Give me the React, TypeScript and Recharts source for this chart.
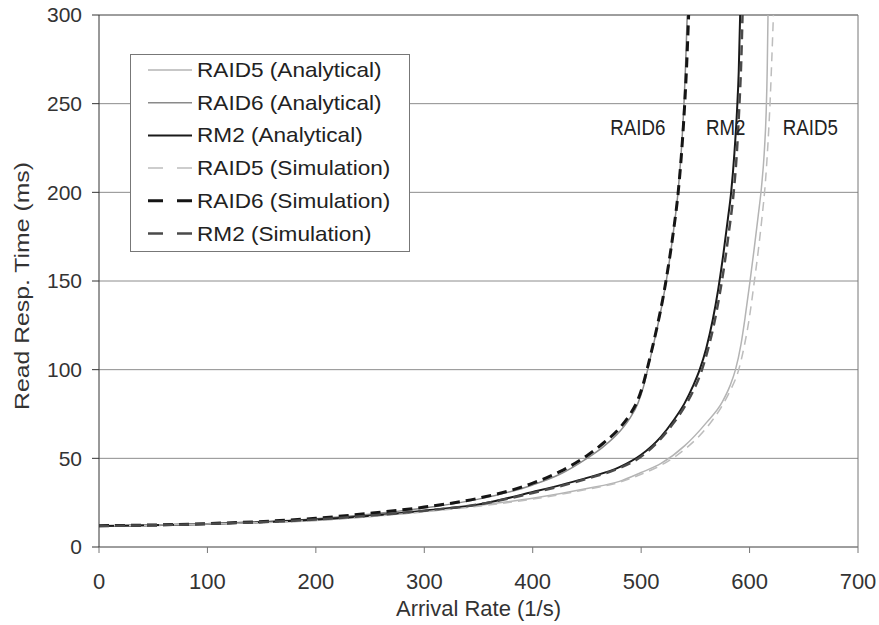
import React from 'react';
import { LineChart, Line, XAxis, YAxis, CartesianGrid, ReferenceLine, ReferenceDot } from 'recharts';

const FONT = '"Liberation Sans", Arial, sans-serif';

// x ticks / y ticks
const rateTicks = [0, 100, 200, 300, 400, 500, 600, 700];
const timeTicks = [0, 50, 100, 150, 200, 250, 300];

// RAID5 analytical
const raid5AnaRate = [0, 100, 200, 300, 350, 400, 450, 480, 500, 518, 540, 560, 575, 582, 587, 592, 596, 600, 604, 608, 611, 613.5, 615.3, 616.3, 617];
const raid5AnaTime = [11.8, 13, 15, 20, 23.5, 27.5, 33, 37, 42, 47, 57, 70, 82, 91, 100, 114, 130, 148, 167, 187, 203, 222, 245, 270, 300];

// RAID6 analytical
const raid6AnaRate = [0, 100, 200, 250, 300, 350, 400, 425, 450, 465, 480, 490, 497, 502, 506, 510, 515, 520, 525, 530, 534, 537, 539.5, 541, 542.5];
const raid6AnaTime = [11.8, 13, 16, 18.5, 22, 27, 35, 41, 50, 56.5, 65, 73, 81, 90, 100, 110.5, 124, 139, 157, 179, 200, 223, 250, 272, 300];

// RM2 analytical
const rm2AnaRate = [0, 100, 200, 300, 350, 400, 450, 480, 500, 518, 530, 540, 548, 554, 560, 566, 571, 576, 580, 583, 586, 588.5, 590, 591.3];
const rm2AnaTime = [11.8, 13, 15.5, 20.5, 24, 31, 39, 45, 52, 62, 71.5, 81, 91, 100, 112, 128, 145, 166, 185, 200, 222, 247, 268, 300];

// RAID5 simulation
const raid5SimRate = [0, 100, 200, 300, 350, 400, 450, 480, 500, 518, 540, 560, 575, 582, 590, 595, 600, 604, 608, 611.5, 614.5, 617, 619, 620.5, 622];
const raid5SimTime = [11.8, 13, 15, 19.8, 23, 27, 32.5, 36.5, 41, 46, 55, 67, 80, 88, 100, 113, 130, 148, 167, 186, 205, 228, 252, 275, 300];

// RAID6 simulation
const raid6SimRate = [0, 100, 200, 250, 300, 350, 400, 425, 450, 465, 480, 490, 497, 502, 506, 510, 515, 520, 525, 530, 534, 537, 540, 542, 543.8];
const raid6SimTime = [12, 13.2, 16.2, 19, 22.5, 27.5, 36, 42.5, 51.5, 58.5, 67, 75, 83, 92, 101.5, 111.5, 125, 140, 158, 179, 199, 220, 248, 272, 300];

// RM2 simulation
const rm2SimRate = [0, 100, 200, 300, 350, 400, 450, 480, 500, 518, 530, 540, 548, 555, 561, 567, 572, 577, 581, 585, 588, 590.5, 592.2, 593.5];
const rm2SimTime = [11.8, 13, 15.5, 20.5, 24, 30.5, 38.5, 44.5, 51, 61, 70, 79, 88, 98, 110, 125, 141, 160, 178, 198, 220, 248, 272, 300];

const toPoints = (rates: number[], times: number[]) => rates.map((x, i) => ({ x, y: times[i] }));

const series = [
  { name: 'RAID5 (Analytical)', data: toPoints(raid5AnaRate, raid5AnaTime), color: '#b4b4b4', width: 1.5, dash: undefined },
  { name: 'RAID6 (Analytical)', data: toPoints(raid6AnaRate, raid6AnaTime), color: '#8a8a8a', width: 1.5, dash: undefined },
  { name: 'RM2 (Analytical)', data: toPoints(rm2AnaRate, rm2AnaTime), color: '#1a1a1a', width: 2, dash: undefined },
  { name: 'RAID5 (Simulation)', data: toPoints(raid5SimRate, raid5SimTime), color: '#bdbdbd', width: 1.5, dash: '9 6' },
  { name: 'RAID6 (Simulation)', data: toPoints(raid6SimRate, raid6SimTime), color: '#151515', width: 3, dash: '10 6' },
  { name: 'RM2 (Simulation)', data: toPoints(rm2SimRate, rm2SimTime), color: '#4a4a4a', width: 2.5, dash: '10 6' },
];

const curveLabels = [
  { text: 'RAID6', x: 497, y: 237 },
  { text: 'RM2', x: 578, y: 237 },
  { text: 'RAID5', x: 656, y: 237 },
];

const LegendBox = () => (
  <svg width={280} height={198} style={{ display: 'block' }}>
    <rect x={0.5} y={0.5} width={279} height={197} fill="#fff" stroke="#777" />
    {series.map((s, i) => {
      const cy = 16 + i * 32.7;
      return (
        <g key={s.name}>
          <line x1={18} x2={62} y1={cy} y2={cy} stroke={s.color} strokeWidth={s.width} strokeDasharray={s.dash ? '15 14' : undefined} />
          <text
            transform={`translate(67, ${cy + 7}) scale(1.13, 1)`}
            fontFamily={FONT}
            fontSize={20}
            fill="#222"
          >
            {s.name}
          </text>
        </g>
      );
    })}
  </svg>
);

const CurveLabel = (props: any) => {
  const { viewBox, value } = props;
  const cx = viewBox.x + (viewBox.width || 0) / 2;
  const cy = viewBox.y + (viewBox.height || 0) / 2;
  return (
    <text
      transform={`translate(${cx}, ${cy + 8}) scale(0.85, 1)`}
      textAnchor="middle"
      fontFamily={FONT}
      fontSize={22}
      fill="#222"
    >
      {value}
    </text>
  );
};

const YTitle = () => (
  <text
    transform="translate(29, 286) rotate(-90)"
    textAnchor="middle"
    fontFamily={FONT}
    fontSize={21}
    fill="#333"
    textLength={248}
    lengthAdjust="spacingAndGlyphs"
  >
    Read Resp. Time (ms)
  </text>
);

export default function App() {
  return (
    <div style={{ position: 'absolute', left: 0, top: 0, width: 879, height: 625, background: '#fff' }}>
      <LineChart width={879} height={625} margin={{ top: 15, right: 21, left: 0, bottom: 0 }}>
        <CartesianGrid vertical={false} stroke="#8c8c8c" strokeWidth={1} />
        <XAxis
          dataKey="x"
          type="number"
          domain={[0, 700]}
          ticks={rateTicks}
          allowDataOverflow
          height={78}
          tickSize={6}
          tickMargin={20}
          stroke="#777"
          tick={{ fontFamily: FONT, fontSize: 22, fill: '#333' }}
          label={{ value: 'Arrival Rate (1/s)', position: 'insideBottom', offset: 9, style: { fontFamily: FONT, fontSize: 22, fill: '#333' } }}
        />
        <YAxis
          type="number"
          domain={[0, 300]}
          ticks={timeTicks}
          allowDataOverflow
          width={99}
          tickSize={7}
          tickMargin={10}
          stroke="#333"
          tick={{ fontFamily: FONT, fontSize: 21, fill: '#333' }}
          label={<YTitle />}
        />
        <ReferenceLine y={300} stroke="#777" />
        <ReferenceLine x={700} stroke="#777" />
        {series.map((s) => (
          <Line
            key={s.name}
            data={s.data}
            dataKey="y"
            name={s.name}
            type="monotone"
            stroke={s.color}
            strokeWidth={s.width}
            strokeDasharray={s.dash}
            dot={false}
            activeDot={false}
            isAnimationActive={false}
          />
        ))}
        {curveLabels.map((c) => (
          <ReferenceDot key={c.text} x={c.x} y={c.y} r={0} fill="none" stroke="none" label={<CurveLabel value={c.text} />} />
        ))}
      </LineChart>
      <div style={{ position: 'absolute', left: 130, top: 54 }}>
        <LegendBox />
      </div>
    </div>
  );
}
